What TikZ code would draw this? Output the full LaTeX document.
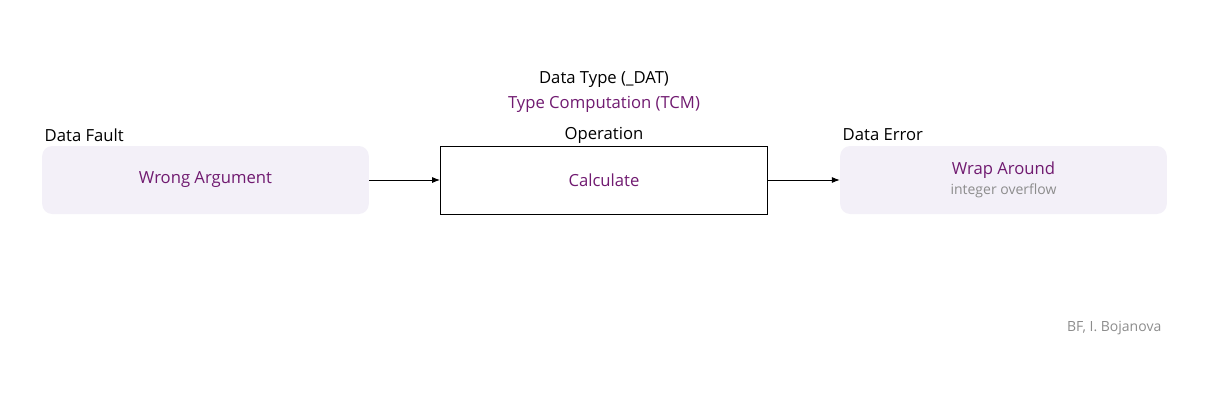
\documentclass[tikz,border=0pt]{standalone}
\usepackage{fontspec}
\setmainfont{Open Sans}
\usetikzlibrary{arrows.meta}
\definecolor{tcpurple}{HTML}{701A70}
\definecolor{tcfill}{HTML}{F3F0F8}
\definecolor{tcgray}{HTML}{8C8C8C}
\tikzset{
  softbox/.style={fill=tcfill,rounded corners=7.5pt,minimum width=245pt,minimum height=51pt,text=tcpurple,align=center},
  opbox/.style={draw,line width=0.75pt,minimum width=245pt,minimum height=51pt,text=tcpurple},
  head/.style={font=\fontsize{12.5}{15}\selectfont},
  flow/.style={-{Latex[length=6pt,width=4.5pt]},line width=0.75pt}
}
\begin{document}
\begin{tikzpicture}[x=0.75pt,y=-0.75pt,font=\fontsize{12.5}{15}\selectfont]
  \useasboundingbox (0,0) rectangle (1207,400);
  \node[softbox] (fault) at (205.5,180) {Wrong Argument};
  \node[opbox] (op) at (604,180) {Calculate};
  \node[softbox] (error) at (1003.5,180) {Wrap Around\\[0pt]{\fontsize{10.5}{12}\selectfont\color{tcgray}integer overflow}};
  \node[head,anchor=west] (faultlbl) at (40,135) {Data Fault};
  \node[head] (oplbl) at (604,135) {Operation};
  \node[head,anchor=west] (errorlbl) at (838,135) {Data Error};
  \node[head] (dat) at (604,80) {Data Type (\_DAT)};
  \node[head,text=tcpurple] (tcm) at (604,104) {Type Computation (TCM)};
  \node[anchor=east,text=tcgray,font=\fontsize{10.5}{12}\selectfont] (credit) at (1166,328) {BF, I. Bojanova};
  \draw[flow] (fault) -- (op);
  \draw[flow] (op) -- (error);
\end{tikzpicture}
\end{document}
